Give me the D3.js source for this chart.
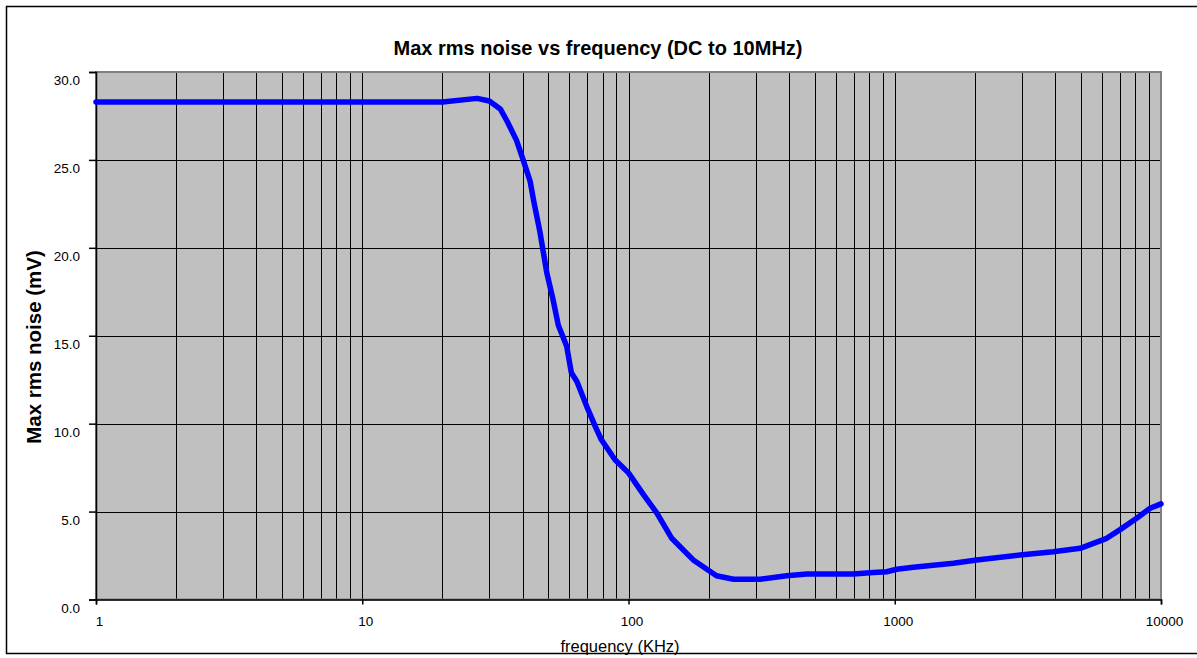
<!DOCTYPE html>
<html>
<head>
<meta charset="utf-8">
<script src="https://cdn.jsdelivr.net/npm/d3@7"></script>
<style>
    body { margin: 0; background: #fff; }
    svg { display: block; font-family: "Liberation Sans", Arial, sans-serif; }
    .tick text { font-size: 13.5px; fill: #000; }
</style>
</head>
<body>
<div id="chart"></div>
<script>
(function () {
    // frequency in KHz
    var freq = [1, 20, 27, 30, 33, 35, 38, 40, 42.7, 44, 46.5, 49.3, 52, 54.5, 58.6, 61, 64,
        69.6, 75, 79, 89, 100, 114, 128, 145, 175, 214, 248, 312, 393, 467, 700, 830,
        933, 1017, 1174, 1660, 2030, 2950, 3940, 4970, 6250, 7000, 8100, 9100, 10000];
    // max rms noise in mV
    var noise = [28.3, 28.3, 28.5, 28.35, 27.9, 27.2, 26.1, 25.1, 23.8, 22.7, 20.9, 18.6, 17.1,
        15.6, 14.4, 12.9, 12.4, 11.0, 9.85, 9.1, 7.95, 7.2, 5.95, 4.9, 3.5, 2.25, 1.35, 1.15,
        1.15, 1.35, 1.45, 1.45, 1.53, 1.58, 1.72, 1.83, 2.06, 2.25, 2.53, 2.72, 2.91, 3.48,
        3.96, 4.62, 5.19, 5.44];
    var yTicks = [0, 5, 10, 15, 20, 25, 30];
    var xTicks = [1, 10, 100, 1000, 10000];

    var W = 1197, H = 658;
    var left = 96, right = 1161, top = 72, bottom = 599.5;

    var svg = d3.select('#chart')
        .append('svg')
            .attr('width', W)
            .attr('height', H);

    // outer frame (runs off the right edge like the original)
    svg.append('rect')
        .attr('x', 6.5).attr('y', 6.5)
        .attr('width', W).attr('height', 647)
        .attr('fill', 'none')
        .attr('stroke', '#000')
        .attr('stroke-width', 1.5);

    var x = d3.scaleLog().domain([1, 10000]).range([left, right]);
    var y = d3.scaleLinear().domain([0, 30]).range([bottom, top]);

    // plot background
    svg.append('rect')
        .attr('x', left).attr('y', top)
        .attr('width', right - left).attr('height', bottom - top)
        .attr('fill', '#c0c0c0');

    // vertical grid: every minor log tick
    var minor = [];
    for (var d = 1; d < 10000; d *= 10) {
        for (var k = 2; k <= 9; k++) minor.push(d * k);
    }
    minor = minor.concat([10, 100, 1000]);
    svg.append('g')
        .selectAll('line')
        .data(minor)
        .enter()
        .append('line')
            .attr('x1', function (v) { return Math.round(x(v)) + 0.5; })
            .attr('x2', function (v) { return Math.round(x(v)) + 0.5; })
            .attr('y1', top)
            .attr('y2', bottom)
            .attr('stroke', '#000')
            .attr('stroke-width', 1);

    // horizontal grid
    svg.append('g')
        .selectAll('line')
        .data(yTicks.slice(1, -1))
        .enter()
        .append('line')
            .attr('x1', left)
            .attr('x2', right)
            .attr('y1', function (v) { return Math.round(y(v)) + 0.5; })
            .attr('y2', function (v) { return Math.round(y(v)) + 0.5; })
            .attr('stroke', '#000')
            .attr('stroke-width', 1);

    // plot border
    svg.append('rect')
        .attr('x', left).attr('y', top)
        .attr('width', right - left).attr('height', bottom - top)
        .attr('fill', 'none')
        .attr('stroke', '#808080')
        .attr('stroke-width', 2);

    // axes
    var yAxis = d3.axisLeft(y)
        .tickValues(yTicks)
        .tickSize(7)
        .tickPadding(9)
        .tickFormat(d3.format('.1f'));
    var gy = svg.append('g')
        .attr('transform', 'translate(' + left + ',0)')
        .call(yAxis)
        .attr('font-family', '"Liberation Sans", Arial, sans-serif');
    gy.select('.domain').attr('stroke', '#000').attr('stroke-width', 1.5);
    gy.selectAll('.tick line').attr('stroke', '#000').attr('stroke-width', 1.5);
    gy.selectAll('text').attr('dy', '0.95em');

    var xAxis = d3.axisBottom(x)
        .tickValues(xTicks)
        .tickSize(5)
        .tickPadding(12)
        .tickFormat(d3.format('d'));
    var gx = svg.append('g')
        .attr('transform', 'translate(0,' + bottom + ')')
        .call(xAxis)
        .attr('font-family', '"Liberation Sans", Arial, sans-serif');
    gx.select('.domain').attr('stroke', '#000').attr('stroke-width', 1.5);
    gx.selectAll('.tick line').attr('stroke', '#000').attr('stroke-width', 1.5);
    gx.selectAll('text').attr('dx', 3);

    // the noise curve
    var line = d3.line()
        .x(function (d) { return x(d[0]); })
        .y(function (d) { return y(d[1]); });
    svg.append('path')
        .datum(d3.zip(freq, noise))
        .attr('d', line)
        .attr('fill', 'none')
        .attr('stroke', '#0000ff')
        .attr('stroke-width', 5.5)
        .attr('stroke-linejoin', 'round')
        .attr('stroke-linecap', 'round');

    // titles
    svg.append('text')
        .text('Max rms noise vs frequency (DC to 10MHz)')
        .attr('x', 598)
        .attr('y', 55)
        .attr('text-anchor', 'middle')
        .attr('font-size', 20)
        .attr('font-weight', 'bold');

    svg.append('text')
        .text('Max rms noise (mV)')
        .attr('transform', 'translate(41,347) rotate(-90)')
        .attr('text-anchor', 'middle')
        .attr('font-size', 20.5)
        .attr('font-weight', 'bold');

    svg.append('text')
        .text('frequency (KHz)')
        .attr('x', 620)
        .attr('y', 652)
        .attr('text-anchor', 'middle')
        .attr('font-size', 16.5);
})();
</script>
</body>
</html>
